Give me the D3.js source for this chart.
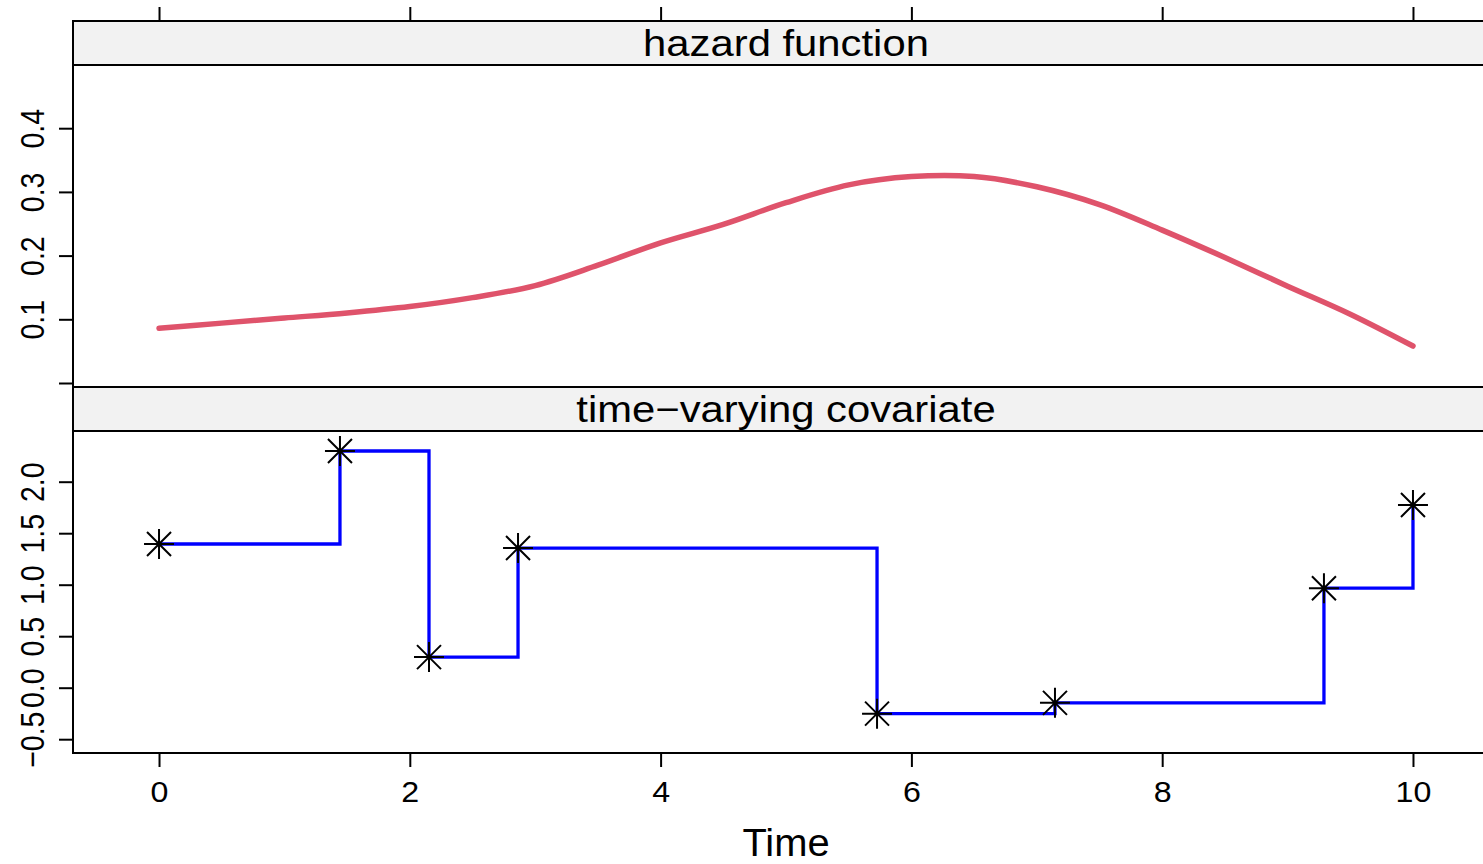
<!DOCTYPE html>
<html>
<head>
<meta charset="utf-8">
<script src="https://cdn.jsdelivr.net/npm/d3@7"></script>
<style>
  html, body { margin: 0; padding: 0; background: #ffffff; }
  svg { display: block; }
  text { font-family: "Liberation Sans", Arial, Helvetica, sans-serif; fill: #000; }
</style>
</head>
<body>
<svg id="chart" width="1483" height="864"></svg>
<script>
// ---------- data ----------
const panelTitles = ["hazard function", "time\u2212varying covariate"];
const hazardTime = [0, 0.5, 1, 1.5, 2, 2.5, 3, 3.5, 4, 4.5, 5, 5.5, 6, 6.5, 7, 7.5, 8, 8.5, 9, 9.5, 10];
const hazardValue = [0.086, 0.094, 0.102, 0.110, 0.120, 0.134, 0.153, 0.185, 0.220, 0.249, 0.283, 0.311, 0.324, 0.324, 0.308, 0.280, 0.240, 0.197, 0.152, 0.108, 0.058];
const covTime = [0, 1.443, 2.153, 2.863, 5.726, 7.145, 9.29, 10];
const covValue = [1.395, 2.298, 0.297, 1.356, -0.252, -0.147, 0.966, 1.774];
const xTicks = [0, 2, 4, 6, 8, 10];
const hazardTicks = [0, 0.1, 0.2, 0.3, 0.4];
const covTicks = [-0.5, 0, 0.5, 1.0, 1.5, 2.0];
const xLabel = "Time";

// ---------- layout ----------
const svg = d3.select("#chart");
const left = 73, right = 1499;
const top1 = 21, strip1 = 65, bot1 = 387;
const top2 = 387, strip2 = 431, bot2 = 753;

const x = d3.scaleLinear().domain([-0.686, 10.686]).range([left, right]);
const yH = d3.scaleLinear().domain([0, 0.5]).range([383, 64.5]);
const yC = d3.scaleLinear().domain([-0.5, 2.0]).range([739.2, 481.7]);
const fmt = d3.format(".1f");

// ---------- panel frames ----------
function panel(top, stripBottom, bottom, title) {
  svg.append("rect").attr("x", left).attr("y", top).attr("width", right - left).attr("height", stripBottom - top)
    .attr("fill", "#f2f2f2").attr("stroke", "#000").attr("stroke-width", 2);
  svg.append("rect").attr("x", left).attr("y", stripBottom).attr("width", right - left).attr("height", bottom - stripBottom)
    .attr("fill", "none").attr("stroke", "#000").attr("stroke-width", 2);
  svg.append("text").attr("x", (left + right) / 2).attr("y", top + 35.5)
    .attr("text-anchor", "middle").attr("font-size", 37)
    .attr("transform", `translate(${(left + right) / 2},0) scale(1.13,1) translate(${-(left + right) / 2},0)`)
    .text(title);
}
panel(top1, strip1, bot1, panelTitles[0]);
panel(top2, strip2, bot2, panelTitles[1]);

// ---------- axes ----------
function styleAxis(g) {
  g.select(".domain").remove();
  g.selectAll(".tick line").attr("stroke", "#000").attr("stroke-width", 2);
}

// top ticks (no labels)
svg.append("g").attr("transform", `translate(0,${top1})`)
  .call(d3.axisTop(x).tickValues(xTicks).tickSize(14).tickFormat(""))
  .call(styleAxis);

// bottom axis
const gx = svg.append("g").attr("transform", `translate(0,${bot2})`)
  .call(d3.axisBottom(x).tickValues(xTicks).tickSize(14).tickFormat(d3.format("d")))
  .call(styleAxis);
gx.selectAll(".tick text")
  .attr("y", 0).attr("dy", 0)
  .attr("transform", "translate(0,49) scale(1.15,1.05)")
  .attr("font-size", 28).attr("fill", "#000").attr("font-family", "Liberation Sans, Arial, sans-serif");

svg.append("text").attr("x", 0).attr("y", 0)
  .attr("transform", `translate(${x(5)},856) scale(1.05,1)`)
  .attr("text-anchor", "middle").attr("font-size", 38).text(xLabel);

// left axes
function leftAxis(scale, ticks, hideZero) {
  const g = svg.append("g").attr("transform", `translate(${left},0)`)
    .call(d3.axisLeft(scale).tickValues(ticks).tickSize(14)
      .tickFormat(d => (hideZero && d === 0) ? "" : fmt(d)))
    .call(styleAxis);
  g.selectAll(".tick text")
    .attr("x", 0).attr("dy", 0)
    .attr("text-anchor", "middle")
    .attr("transform", "translate(-29,0) scale(1.18,1) rotate(-90)")
    .attr("font-size", 28.5).attr("fill", "#000").attr("font-family", "Liberation Sans, Arial, sans-serif");
}
leftAxis(yH, hazardTicks, true);
leftAxis(yC, covTicks, false);

// ---------- hazard curve ----------
const hz = hazardTime.map((t, i) => ({ t, v: hazardValue[i] }));
svg.append("path").datum(hz)
  .attr("fill", "none").attr("stroke", "#DF536B").attr("stroke-width", 5.5)
  .attr("stroke-linecap", "round").attr("stroke-linejoin", "round")
  .attr("d", d3.line().x(d => x(d.t)).y(d => yH(d.v)).curve(d3.curveCatmullRom.alpha(0.5)));

// ---------- covariate steps ----------
const cv = covTime.map((t, i) => ({ t, v: covValue[i] }));
svg.append("path").datum(cv)
  .attr("fill", "none").attr("stroke", "#0000ff").attr("stroke-width", 3.3)
  .attr("stroke-linejoin", "miter")
  .attr("d", d3.line().x(d => x(d.t)).y(d => yC(d.v)).curve(d3.curveStepAfter));

// asterisk symbol (plus + cross)
const asterisk = {
  draw(ctx, size) {
    const r = Math.sqrt(size);
    const c = r * 0.8;
    ctx.moveTo(-r, 0); ctx.lineTo(r, 0);
    ctx.moveTo(0, -r); ctx.lineTo(0, r);
    ctx.moveTo(-c, -c); ctx.lineTo(c, c);
    ctx.moveTo(-c, c); ctx.lineTo(c, -c);
  }
};
svg.append("g").selectAll("path").data(cv).join("path")
  .attr("transform", d => `translate(${x(d.t)},${yC(d.v)})`)
  .attr("d", d3.symbol().type(asterisk).size(225))
  .attr("fill", "none").attr("stroke", "#000").attr("stroke-width", 2);
</script>
</body>
</html>
